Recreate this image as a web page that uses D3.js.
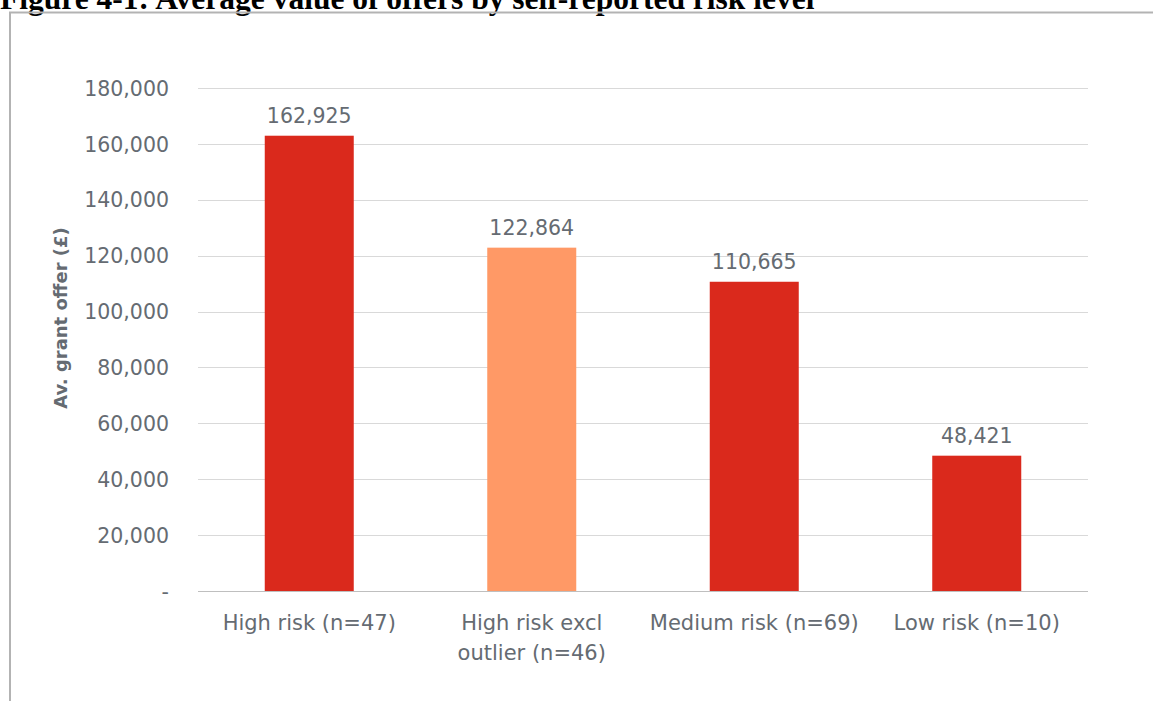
<!DOCTYPE html>
<html>
<head>
<meta charset="utf-8">
<script src="https://d3js.org/d3.v7.min.js"></script>
<style>
  body { margin: 0; background: #fff; }
  svg { display: block; }
</style>
</head>
<body>
<svg id="chart" width="1153" height="701"></svg>
<script>
const categories = ["High risk (n=47)", "High risk excl|outlier (n=46)", "Medium risk (n=69)", "Low risk (n=10)"];
const values = [162925, 122864, 110665, 48421];
const barColors = ["#DA291C", "#FF9966", "#DA291C", "#DA291C"];
const yTicks = [0, 20000, 40000, 60000, 80000, 100000, 120000, 140000, 160000, 180000];

const svg = d3.select("#chart");
const font = "'DejaVu Sans', sans-serif";
const grey = "#656b72";

// title, cut off at the top of the picture
svg.append("text")
  .attr("x", 0).attr("y", 9)
  .attr("font-family", "'Liberation Serif', serif")
  .attr("font-weight", "bold")
  .attr("font-size", 31.5)
  .attr("fill", "#000")
  .text("Figure 4-1: Average value of offers by self-reported risk level");

// frame
svg.append("path")
  .attr("d", "M10,701 V12.5 H1153")
  .attr("fill", "none")
  .attr("stroke", "#b3b3b3")
  .attr("stroke-width", 2);

const x = d3.scaleBand()
  .domain(categories)
  .range([198, 1088])
  .paddingInner(0.6)
  .paddingOuter(0.3);

const y = d3.scaleLinear()
  .domain([0, 180000])
  .range([591, 88]);

// gridlines
svg.append("g")
  .selectAll("line")
  .data(yTicks)
  .join("line")
  .attr("x1", 198).attr("x2", 1088)
  .attr("y1", d => Math.round(y(d)) + 0.5)
  .attr("y2", d => Math.round(y(d)) + 0.5)
  .attr("stroke", d => d === 0 ? "#bfbfbf" : "#d9d9d9")
  .attr("stroke-width", 1);

// y axis labels
const yAxis = d3.axisLeft(y)
  .tickValues(yTicks)
  .tickSize(0)
  .tickPadding(0)
  .tickFormat(d => d === 0 ? "-" : d3.format(",")(d));

svg.append("g")
  .attr("transform", "translate(169,0)")
  .call(yAxis)
  .call(g => g.select(".domain").remove())
  .call(g => g.selectAll("text")
    .attr("font-family", font)
    .attr("font-size", 20.5)
    .attr("fill", grey)
    .attr("dy", "0.35em"));

// axis title
svg.append("text")
  .attr("transform", "translate(67,318) rotate(-90)")
  .attr("text-anchor", "middle")
  .attr("font-family", font)
  .attr("font-weight", "bold")
  .attr("font-size", 18)
  .attr("fill", grey)
  .text("Av. grant offer (£)");

// bars
svg.append("g")
  .selectAll("rect")
  .data(values)
  .join("rect")
  .attr("x", (d, i) => x(categories[i]))
  .attr("width", x.bandwidth())
  .attr("y", d => y(d))
  .attr("height", d => y(0) - y(d))
  .attr("fill", (d, i) => barColors[i]);

// value labels
svg.append("g")
  .selectAll("text")
  .data(values)
  .join("text")
  .attr("x", (d, i) => x(categories[i]) + x.bandwidth() / 2)
  .attr("y", d => y(d) - 13)
  .attr("text-anchor", "middle")
  .attr("font-family", font)
  .attr("font-size", 20.5)
  .attr("fill", grey)
  .text(d => d3.format(",")(d));

// category labels
const catG = svg.append("g")
  .selectAll("text")
  .data(categories)
  .join("text")
  .attr("x", d => x(d) + x.bandwidth() / 2)
  .attr("y", 630)
  .attr("text-anchor", "middle")
  .attr("font-family", font)
  .attr("font-size", 21)
  .attr("fill", grey);

catG.selectAll("tspan")
  .data(d => d.split("|"))
  .join("tspan")
  .attr("x", function () { return d3.select(this.parentNode).attr("x"); })
  .attr("dy", (d, i) => i === 0 ? 0 : 30)
  .text(d => d);
</script>
</body>
</html>
